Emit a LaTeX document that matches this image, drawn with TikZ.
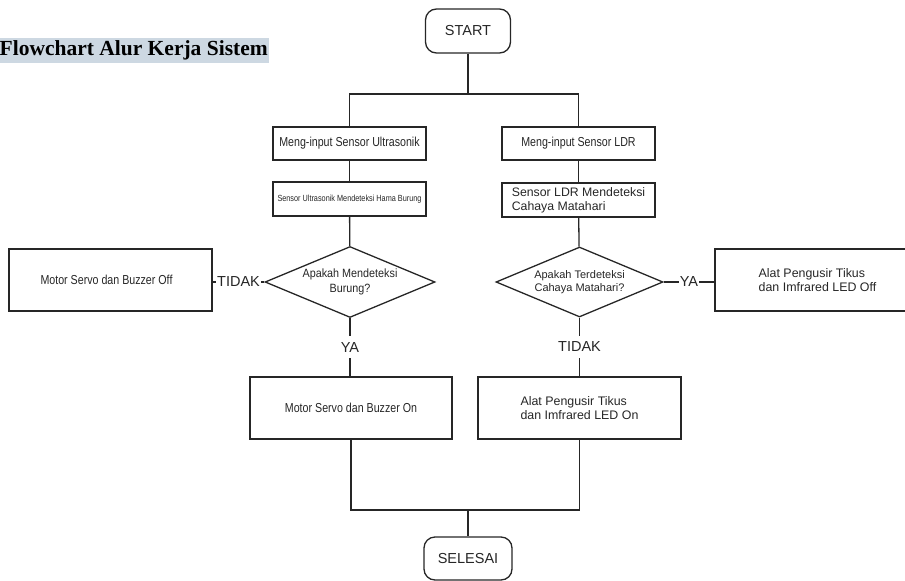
\documentclass[tikz,border=0pt]{standalone}
\usepackage{fontspec}
\setmainfont{Liberation Sans}
\newfontfamily\narrowfont[FakeStretch=0.82]{Liberation Sans}
\newfontfamily\midfont[FakeStretch=0.9]{Liberation Sans}
\newfontfamily\titlefont{Liberation Serif}
\usepackage{xcolor}
\usetikzlibrary{shapes.geometric, positioning, arrows.meta, calc}

\definecolor{titlebg}{HTML}{CDD8E2}
\definecolor{linegray}{HTML}{262626}

\begin{document}
\begin{tikzpicture}[
        x=1pt, y=-1pt,
        color=linegray,
        line width=1.3pt,
        % Style for START and SELESAI
        terminal/.style={
            draw,
            rounded corners=11pt,
            minimum width=85pt,
            minimum height=44pt,
            inner sep=0pt,
            font=\fontsize{14.5}{16}\selectfont
        },
        % Style for the small process boxes
        process/.style={
            draw,
            minimum width=153pt,
            minimum height=34pt,
            inner sep=0pt,
            align=left
        },
        % Style for the large result boxes
        resultbox/.style={
            draw,
            minimum width=203pt,
            minimum height=62pt,
            inner sep=0pt,
            align=left
        },
        % Style for the decision diamonds
        decision/.style={
            draw,
            diamond,
            aspect=2.4,
            inner sep=0pt,
            align=center
        },
        % Style for the YA / TIDAK labels on the lines
        branchlabel/.style={
            fill=white,
            inner xsep=1pt,
            inner ysep=6pt,
            font=\fontsize{14.5}{16}\selectfont
        }
    ]

    \useasboundingbox (0,0) rectangle (905,581);

    % ==========================================
    % TITLE
    % ==========================================
    \node (title) [anchor=west, fill=titlebg, text=black, inner xsep=1pt, inner ysep=0pt,
        minimum height=25pt, font=\titlefont\bfseries\fontsize{21.5}{23}\selectfont]
        at (-2,50.5) {Flowchart Alur Kerja Sistem};

    % ==========================================
    % NODES
    % ==========================================
    \node (start) [terminal] at (468,31) {START};

    % left column
    \node (ultra1) [process, minimum height=33pt, font=\narrowfont\fontsize{13}{15}\selectfont]
        at (349.5,143.5) {Meng-input Sensor Ultrasonik};
    \node (ultra2) [process, font=\narrowfont\fontsize{8.9}{10}\selectfont]
        at (349.5,199) {Sensor Ultrasonik Mendeteksi Hama Burung};
    \node (burung) [decision, minimum width=170pt, minimum height=71pt,
        font=\midfont\fontsize{12}{14.5}\selectfont]
        at (350,282) {Apakah Mendeteksi\\Burung?};
    \node (servooff) [resultbox, font=\narrowfont\fontsize{13}{15}\selectfont]
        at (110.5,280) {Motor Servo dan Buzzer Off\hspace*{8pt}};
    \node (servoon) [resultbox, minimum width=202pt, font=\narrowfont\fontsize{13}{15}\selectfont]
        at (351,408) {Motor Servo dan Buzzer On};

    % right column
    \node (ldr1) [process, minimum height=33pt, font=\narrowfont\fontsize{13}{15}\selectfont]
        at (578.5,143.5) {Meng-input Sensor LDR};
    \node (ldr2) [process, font=\fontsize{12.3}{14}\selectfont]
        at (578.5,200) {Sensor LDR Mendeteksi\\Cahaya Matahari};
    \node (cahaya) [decision, minimum width=167pt, minimum height=70pt,
        font=\fontsize{11}{13.5}\selectfont]
        at (579.5,282) {Apakah Terdeteksi\\Cahaya Matahari?};
    \node (tikusoff) [resultbox, minimum width=207pt, font=\fontsize{12.4}{14.5}\selectfont]
        at (818.5,280) {\hspace*{-2pt}Alat Pengusir Tikus\\\hspace*{-2pt}dan Imfrared LED Off};
    \node (tikuson) [resultbox, font=\fontsize{12.4}{14.5}\selectfont]
        at (579.5,408) {Alat Pengusir Tikus\hspace*{8pt}\\dan Imfrared LED On};

    \node (finish) [terminal, minimum width=88pt, minimum height=43pt] at (468,558.5) {SELESAI};

    % ==========================================
    % CONNECTORS
    % ==========================================
    \coordinate (split) at (467,94);
    \coordinate (merge) at (468,510);

    \draw (start.south) -- (start.south |- split);
    \draw (ultra1.north) |- (split) -| (ldr1.north);

    \draw (ultra1) -- (ultra2);
    \draw (ultra2) -- (burung);
    \draw (ldr1) -- (ldr2);
    \draw (ldr2) -- (cahaya);

    \draw (burung.west) -- node[branchlabel] {TIDAK} (burung.west -| servooff.east);
    \draw (burung.south) -- node[branchlabel] {YA} (burung.south |- servoon.north);
    \draw (cahaya.east) -- node[branchlabel] {YA} (cahaya.east -| tikusoff.west);
    \draw (cahaya.south) -- node[branchlabel] {TIDAK} (cahaya.south |- tikuson.north);

    \draw (servoon.south) |- (merge) -| (tikuson.south);
    \draw (merge) -- (finish.north);
\end{tikzpicture}
\end{document}
